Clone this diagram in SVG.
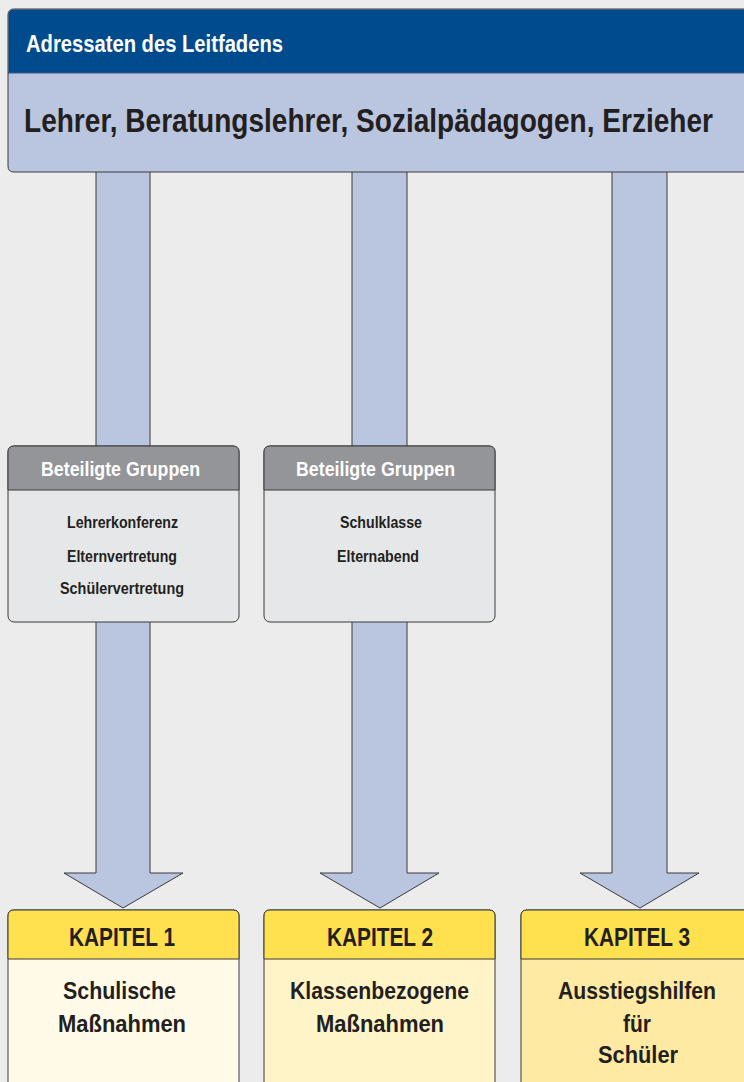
<svg xmlns="http://www.w3.org/2000/svg" width="744" height="1082" viewBox="0 0 744 1082">
<style>
.t{font-family:"Liberation Sans Narrow","Liberation Sans",Arial,sans-serif;font-weight:bold;fill:#231f20}
.w{fill:#ffffff}
.ol{stroke:#3a3a3a;stroke-width:1}
.arrow{fill:#bac5df;stroke:#3a3a3a;stroke-width:1}
</style>
<rect width="744" height="1082" fill="#ececec"/>
<g id="connectors">
<polygon class="arrow" points="96,160 150,160 150,873 183,873 123,908 64,873 96,873"/>
<polygon class="arrow" points="352,160 407,160 407,873 439,873 380,908 320,873 352,873"/>
<polygon class="arrow" points="612,160 667,160 667,873 699,873 640,908 580,873 612,873"/>
</g>
<g id="adressaten">
<path d="M746,172 L14,172 Q8,172 8,166 L8,15 Q8,9 14,9 L746,9 Z" fill="#bac5df"/>
<path d="M746,73 L8.5,73 L8.5,15 Q8.5,9.5 14,9.5 L746,9.5 Z" fill="#004b8d"/>
<line x1="8" y1="73" x2="744" y2="73" stroke="#3a5a8a" stroke-width="1"/>
<path d="M746,172 L14,172 Q8,172 8,166 L8,15 Q8,9 14,9 L746,9" fill="none" class="ol"/>
<text class="t w" x="26" y="52" font-size="23" textLength="257" lengthAdjust="spacingAndGlyphs">Adressaten des Leitfadens</text>
<text class="t" x="24" y="132" font-size="33" textLength="689" lengthAdjust="spacingAndGlyphs">Lehrer, Beratungslehrer, Sozialpädagogen, Erzieher</text>
</g>
<g id="gruppen1">
<rect x="8" y="446" width="231" height="176" rx="6" fill="#e6e7e8" class="ol"/>
<path d="M8,490 L8,452 Q8,446 14,446 L233,446 Q239,446 239,452 L239,490 Z" fill="#939598" class="ol"/>
<text class="t w" x="41" y="476" font-size="21" textLength="159" lengthAdjust="spacingAndGlyphs">Beteiligte Gruppen</text>
<text class="t" x="67" y="528" font-size="17" textLength="111" lengthAdjust="spacingAndGlyphs">Lehrerkonferenz</text>
<text class="t" x="67" y="562" font-size="17" textLength="110" lengthAdjust="spacingAndGlyphs">Elternvertretung</text>
<text class="t" x="60" y="594" font-size="17" textLength="124" lengthAdjust="spacingAndGlyphs">Schülervertretung</text>
</g>
<g id="gruppen2">
<rect x="264" y="446" width="231" height="176" rx="6" fill="#e6e7e8" class="ol"/>
<path d="M264,490 L264,452 Q264,446 270,446 L489,446 Q495,446 495,452 L495,490 Z" fill="#939598" class="ol"/>
<text class="t w" x="296" y="476" font-size="21" textLength="159" lengthAdjust="spacingAndGlyphs">Beteiligte Gruppen</text>
<text class="t" x="340" y="528" font-size="17" textLength="82" lengthAdjust="spacingAndGlyphs">Schulklasse</text>
<text class="t" x="337" y="562" font-size="17" textLength="82" lengthAdjust="spacingAndGlyphs">Elternabend</text>
</g>
<g id="kapitel1">
<path d="M8,1090 L8,916 Q8,910 14,910 L233,910 Q239,910 239,916 L239,1090 Z" fill="#fffbe8" class="ol"/>
<path d="M8,959 L8,916 Q8,910 14,910 L233,910 Q239,910 239,916 L239,959 Z" fill="#ffe04f" class="ol"/>
<text class="t" x="69" y="946" font-size="26" textLength="106" lengthAdjust="spacingAndGlyphs">KAPITEL 1</text>
<text class="t" x="63" y="999" font-size="24" textLength="113" lengthAdjust="spacingAndGlyphs">Schulische</text>
<text class="t" x="58" y="1032" font-size="24" textLength="128" lengthAdjust="spacingAndGlyphs">Maßnahmen</text>
</g>
<g id="kapitel2">
<path d="M264,1090 L264,916 Q264,910 270,910 L489,910 Q495,910 495,916 L495,1090 Z" fill="#fff3c8" class="ol"/>
<path d="M264,959 L264,916 Q264,910 270,910 L489,910 Q495,910 495,916 L495,959 Z" fill="#ffe04f" class="ol"/>
<text class="t" x="327" y="946" font-size="26" textLength="106" lengthAdjust="spacingAndGlyphs">KAPITEL 2</text>
<text class="t" x="290" y="999" font-size="24" textLength="179" lengthAdjust="spacingAndGlyphs">Klassenbezogene</text>
<text class="t" x="316" y="1032" font-size="24" textLength="128" lengthAdjust="spacingAndGlyphs">Maßnahmen</text>
</g>
<g id="kapitel3">
<path d="M521,1090 L521,916 Q521,910 527,910 L746,910 L746,1090 Z" fill="#ffeaa3" class="ol"/>
<path d="M521,959 L521,916 Q521,910 527,910 L746,910 L746,959 Z" fill="#ffe04f" class="ol"/>
<text class="t" x="584" y="946" font-size="26" textLength="106" lengthAdjust="spacingAndGlyphs">KAPITEL 3</text>
<text class="t" x="558" y="999" font-size="24" textLength="158" lengthAdjust="spacingAndGlyphs">Ausstiegshilfen</text>
<text class="t" x="623" y="1032" font-size="24" textLength="28" lengthAdjust="spacingAndGlyphs">für</text>
<text class="t" x="598" y="1063" font-size="24" textLength="80" lengthAdjust="spacingAndGlyphs">Schüler</text>
</g>
</svg>
